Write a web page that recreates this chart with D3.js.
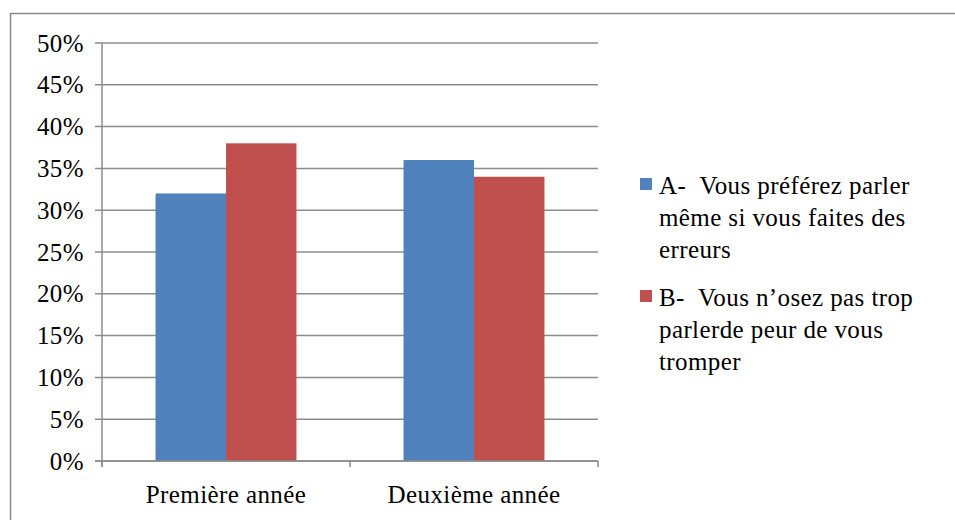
<!DOCTYPE html>
<html><head><meta charset="utf-8">
<script src="https://cdn.jsdelivr.net/npm/d3@7"></script>
<style>body{margin:0;background:#fff}svg{display:block}</style>
</head><body>
<script>
const categories = ["Première année", "Deuxième année"];
const seriesNames = ["A", "B"];
const seriesA = [0.32, 0.36];
const seriesB = [0.38, 0.34];
const yTicks = [0, 0.05, 0.10, 0.15, 0.20, 0.25, 0.30, 0.35, 0.40, 0.45, 0.50];
const legendLines = [
  ["A-\u00a0\u00a0Vous préférez parler", "même si vous faites des", "erreurs"],
  ["B-\u00a0\u00a0Vous n’osez pas trop", "parlerde peur de vous", "tromper"]
];
const colors = ["#4F81BD", "#C0504D"];

(function(){
const FONT = "'Liberation Serif', 'Times New Roman', 'DejaVu Serif', serif";
const FS = 25, LS = 0.4;
const W = 955, H = 520;
const svg = d3.select("body").append("svg").attr("width", W).attr("height", H)
  .attr("font-family", FONT);
svg.append("rect").attr("x", 10.5).attr("y", 13.5).attr("width", W).attr("height", H)
  .attr("fill", "#fff").attr("stroke", "#888").attr("stroke-width", 1.5);

const pLeft = 102, pRight = 598, pTop = 43, pBottom = 461;
const y = d3.scaleLinear().domain([0, 0.5]).range([pBottom, pTop]);
const x0 = d3.scaleBand().domain(categories).range([pLeft, pRight]).paddingInner(0).paddingOuter(0);
const x1 = d3.scaleBand().domain(seriesNames).range([0, x0.bandwidth()]).paddingInner(0).paddingOuter(0.76);

svg.append("g").selectAll("line").data(yTicks).join("line")
  .attr("x1", pLeft - 7).attr("x2", pRight)
  .attr("y1", d => y(d)).attr("y2", d => y(d))
  .attr("stroke", "#8c8c8c").attr("stroke-width", 1.5);

svg.append("line").attr("x1", pLeft).attr("x2", pLeft).attr("y1", pTop).attr("y2", pBottom + 6)
  .attr("stroke", "#8c8c8c").attr("stroke-width", 1.5);

const xt = [pLeft, ...categories.map(c => x0(c) + x0.bandwidth())];
svg.append("g").selectAll("line").data(xt).join("line")
  .attr("x1", d => d).attr("x2", d => d).attr("y1", pBottom).attr("y2", pBottom + 6)
  .attr("stroke", "#8c8c8c").attr("stroke-width", 1.5);

svg.append("g").selectAll("text").data(yTicks).join("text")
  .attr("x", 84).attr("y", d => y(d) + 8.5).attr("text-anchor", "end")
  .attr("font-size", FS).attr("letter-spacing", LS).attr("fill", "#000").text(d => Math.round(d * 100) + "%");

const data = categories.map((c, i) => ({c, vals: [seriesA[i], seriesB[i]]}));
const g = svg.append("g").selectAll("g").data(data).join("g")
  .attr("transform", d => `translate(${x0(d.c)},0)`);
g.selectAll("rect").data(d => d.vals.map((v, j) => ({v, s: seriesNames[j], j}))).join("rect")
  .attr("x", d => x1(d.s)).attr("width", x1.bandwidth())
  .attr("y", d => y(d.v)).attr("height", d => pBottom - y(d.v))
  .attr("fill", d => colors[d.j]);

svg.append("line").attr("x1", pLeft - 7).attr("x2", pRight).attr("y1", pBottom).attr("y2", pBottom)
  .attr("stroke", "#8c8c8c").attr("stroke-width", 1.5);

svg.append("g").selectAll("text").data(categories).join("text")
  .attr("x", d => x0(d) + x0.bandwidth() / 2).attr("y", 503).attr("text-anchor", "middle")
  .attr("font-size", FS).attr("letter-spacing", LS).attr("fill", "#000").text(d => d);

const lg = svg.append("g");
const starts = [185, 297];
legendLines.forEach((lines, i) => {
  lg.append("rect").attr("x", 640).attr("y", starts[i] - 7).attr("width", 12).attr("height", 12).attr("fill", colors[i]);
  lines.forEach((t, k) => {
    lg.append("text").attr("x", 659).attr("y", starts[i] + k * 32 + 8.5).attr("font-size", FS)
      .attr("letter-spacing", LS).attr("fill", "#000").text(t);
  });
});
})();
</script>
</body></html>
